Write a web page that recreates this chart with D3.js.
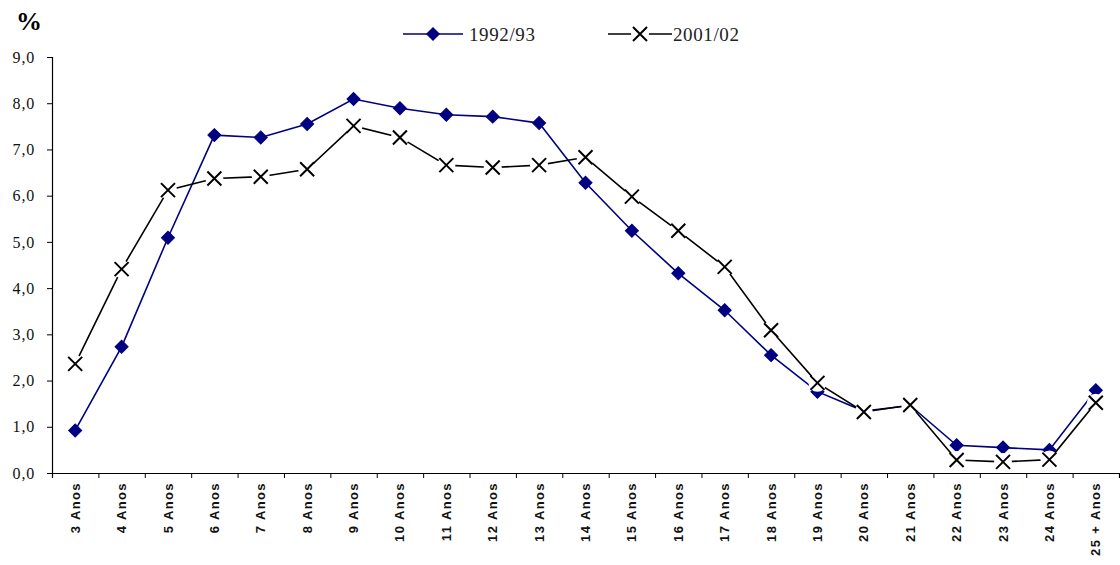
<!DOCTYPE html>
<html>
<head>
<meta charset="utf-8">
<script src="https://cdn.jsdelivr.net/npm/d3@7"></script>
<style>
  html, body { margin: 0; padding: 0; background: #fff; }
  svg { display: block; }
</style>
</head>
<body>
<svg id="chart" width="1120" height="565"></svg>
<script>
// Age groups on the horizontal axis
const categories = ["3 Anos", "4 Anos", "5 Anos", "6 Anos", "7 Anos", "8 Anos", "9 Anos",
  "10 Anos", "11 Anos", "12 Anos", "13 Anos", "14 Anos", "15 Anos", "16 Anos", "17 Anos",
  "18 Anos", "19 Anos", "20 Anos", "21 Anos", "22 Anos", "23 Anos", "24 Anos", "25 + Anos"];

// Share of enrolment by age (%)
const series1992 = [0.92, 2.73, 5.09, 7.31, 7.26, 7.55, 8.09, 7.89, 7.75, 7.71, 7.57,
  6.28, 5.24, 4.32, 3.52, 2.55, 1.76, 1.34, 1.46, 0.60, 0.55, 0.50, 1.79];
const series2001 = [2.36, 4.41, 6.12, 6.37, 6.41, 6.57, 7.51, 7.26, 6.66, 6.61, 6.66,
  6.83, 5.98, 5.24, 4.46, 3.09, 1.95, 1.32, 1.47, 0.28, 0.24, 0.29, 1.52];

const seriesNames = ["1992/93", "2001/02"];
const yTicks = [0, 1, 2, 3, 4, 5, 6, 7, 8, 9];

const svg = d3.select("#chart");
const plotLeft = 52, plotRight = 1119, plotTop = 57, plotBottom = 473;

const x = d3.scaleBand().domain(categories).range([plotLeft, plotRight]).padding(0);
const xc = c => x(c) + x.bandwidth() / 2;
const y = d3.scaleLinear().domain([0, 9]).range([plotBottom, plotTop]);

const serif = "'Liberation Serif', 'Times New Roman', serif";
const sans = "'Liberation Sans', Arial, sans-serif";
const navy = "#000080";

// Y axis
const yAxis = svg.append("g")
  .attr("transform", `translate(${plotLeft},0)`)
  .call(d3.axisLeft(y).tickValues(yTicks).tickSize(5).tickPadding(12)
    .tickFormat(d => d3.format(".1f")(d).replace(".", ",")));
yAxis.select(".domain").attr("stroke", "#000").attr("stroke-width", 1.2);
yAxis.selectAll(".tick line").attr("stroke", "#000");
yAxis.selectAll(".tick text")
  .attr("font-family", serif).attr("font-size", 16).attr("fill", "#111")
  .attr("letter-spacing", "0.8px");

// X axis: boundary ticks between categories
const xIdx = d3.scaleLinear().domain([0, categories.length]).range([plotLeft, plotRight]);
const xAxis = svg.append("g")
  .attr("transform", `translate(0,${plotBottom})`)
  .call(d3.axisBottom(xIdx).tickValues(d3.range(0, categories.length + 1)).tickSize(5)
    .tickFormat(""));
xAxis.select(".domain").attr("stroke", "#000").attr("stroke-width", 1.2);
xAxis.selectAll(".tick line").attr("stroke", "#000");

// X axis: rotated category labels
const xLabels = svg.append("g")
  .attr("transform", `translate(0,${plotBottom})`)
  .call(d3.axisBottom(x).tickSize(0).tickPadding(0));
xLabels.select(".domain").remove();
xLabels.selectAll(".tick text")
  .attr("font-family", sans).attr("font-size", 13).attr("font-weight", "bold")
  .attr("letter-spacing", "1.4px").attr("fill", "#111")
  .attr("transform", "rotate(-90)")
  .attr("text-anchor", "end")
  .attr("x", -9).attr("y", 0).attr("dy", "0.35em");

// Lines
const line = d3.line().x((d, i) => xc(categories[i])).y(d => y(d));

svg.append("path").datum(series1992)
  .attr("d", line).attr("fill", "none").attr("stroke", navy).attr("stroke-width", 1.6);

svg.append("path").datum(series2001)
  .attr("d", line).attr("fill", "none").attr("stroke", "#000").attr("stroke-width", 1.6);

// Diamond markers
const diamond = d3.symbol().type(d3.symbolSquare).size(85);
svg.append("g").selectAll("path").data(series1992).join("path")
  .attr("d", diamond)
  .attr("transform", (d, i) => `translate(${xc(categories[i])},${y(d)}) rotate(45)`)
  .attr("fill", navy).attr("stroke", navy).attr("stroke-width", 1);

// Cross markers, with a white clearing behind each
function drawCross(g, cx, cy) {
  g.append("circle").attr("cx", cx).attr("cy", cy).attr("r", 9).attr("fill", "#fff");
  const s = 7;
  g.append("path")
    .attr("d", `M${cx - s},${cy - s}L${cx + s},${cy + s}M${cx - s},${cy + s}L${cx + s},${cy - s}`)
    .attr("stroke", "#000").attr("stroke-width", 2).attr("fill", "none");
}
const crosses = svg.append("g");
series2001.forEach((d, i) => drawCross(crosses, xc(categories[i]), y(d)));

// Unit label
svg.append("text").attr("x", 16).attr("y", 30).text("%")
  .attr("font-family", serif).attr("font-size", 26).attr("font-weight", "bold").attr("fill", "#000");

// Legend
const legY = 34;
const leg = svg.append("g");
leg.append("line").attr("x1", 403).attr("x2", 463).attr("y1", legY).attr("y2", legY)
  .attr("stroke", navy).attr("stroke-width", 1.6);
leg.append("path").attr("d", d3.symbol().type(d3.symbolSquare).size(100))
  .attr("transform", `translate(433,${legY}) rotate(45)`).attr("fill", navy);
leg.append("text").attr("x", 469).attr("y", legY + 7).text(seriesNames[0])
  .attr("font-family", serif).attr("font-size", 19).attr("letter-spacing", "0.6px").attr("fill", "#222");

leg.append("line").attr("x1", 608).attr("x2", 672).attr("y1", legY).attr("y2", legY)
  .attr("stroke", "#000").attr("stroke-width", 1.6);
drawCross(leg, 640, legY);
leg.append("text").attr("x", 673).attr("y", legY + 7).text(seriesNames[1])
  .attr("font-family", serif).attr("font-size", 19).attr("letter-spacing", "0.6px").attr("fill", "#222");
</script>
</body>
</html>
